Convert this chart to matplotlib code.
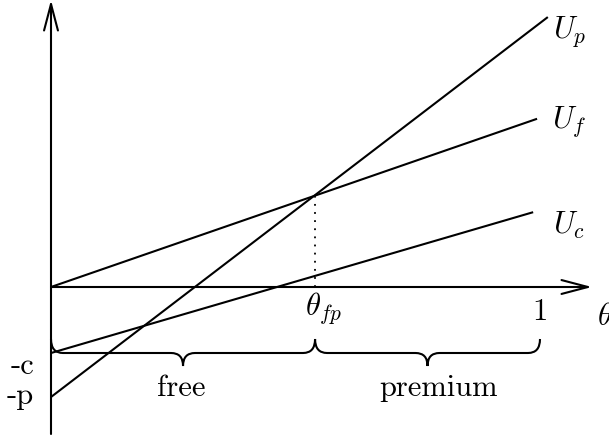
import numpy as np
import matplotlib
matplotlib.use('Agg')
from matplotlib import pyplot as plt
from matplotlib.path import Path
from matplotlib.patches import PathPatch

plt.rcParams['mathtext.fontset'] = 'cm'

# utility lines: start/end theta and value
curve_labels = [r'$U_p$', r'$U_f$', r'$U_c$']
theta_start = [0.0, 0.0, 0.0]
theta_stop = [1.016, 0.994, 0.986]
u_start = [-0.225, 0.0, -0.135]
u_stop = [0.552, 0.344, 0.153]

theta_fp = 0.54
u_fp = 0.188

# brace segments along the theta axis
brace_names = ['free', 'premium']
brace_from = [0.0, theta_fp]
brace_to = [theta_fp, 1.0]

y_tick_labels = ['-c', '-p']

# px -> data: 489 px per unit, origin at (51, 288)
S = 489.0
def px(v):
    return v / S

fig = plt.figure(figsize=(6.09, 4.39), dpi=100)
ax = fig.add_axes([0, 0, 1, 1])
ax.set_xlim(-51 / S, (609 - 51) / S)
ax.set_ylim((288 - 439) / S, 288 / S)
ax.axis('off')

lw = 1.5
fs = 22
rm = 'cmr10'

# axes with arrows
arrow = dict(arrowstyle='->,head_length=0.95,head_width=0.25', lw=lw, color='black',
             mutation_scale=20, shrinkA=0, shrinkB=0)
ax.annotate('', xy=(px(541), 0), xytext=(0, 0), arrowprops=arrow)
ax.annotate('', xy=(0, px(287)), xytext=(0, px(-147)), arrowprops=arrow)

# utility lines
lab_x = [1.027, 1.025, 1.027]
lab_y = [0.511, 0.327, 0.110]
for i in range(len(curve_labels)):
    ax.plot([theta_start[i], theta_stop[i]], [u_start[i], u_stop[i]], color='black', lw=lw,
            solid_capstyle='butt')
    ax.text(lab_x[i], lab_y[i], curve_labels[i], fontsize=fs, ha='left', va='baseline')

# dotted drop line at the crossing
ax.plot([theta_fp, theta_fp], [0, u_fp], color='black', lw=1.3, linestyle=(0, (1, 3.5)))

# axis tick labels
ax.text(px(305 - 51), px(288 - 315), r'$\theta_{fp}$', fontsize=fs, ha='left', va='baseline')
ax.text(1.0, px(288 - 320), '1', fontsize=fs, family=rm, ha='center', va='baseline')
ax.text(px(597 - 51), px(288 - 325), r'$\theta$', fontsize=fs, ha='left', va='baseline')
ax.text(px(34 - 51), px(288 - 374), y_tick_labels[0], fontsize=fs, family=rm, ha='right', va='baseline')
ax.text(px(34 - 51), px(288 - 404), y_tick_labels[1], fontsize=fs, family=rm, ha='right', va='baseline')

# curly braces
def brace(x0, x1, ytop, ybar, ytip, r):
    xm = (x0 + x1) / 2
    verts = [(x0, ytop), (x0, ybar), (x0 + r, ybar),
             (xm - r, ybar), (xm, ybar), (xm, ytip),
             (xm, ybar), (xm + r, ybar),
             (x1 - r, ybar), (x1, ybar), (x1, ytop)]
    codes = [Path.MOVETO, Path.CURVE3, Path.CURVE3,
             Path.LINETO, Path.CURVE3, Path.CURVE3,
             Path.CURVE3, Path.CURVE3,
             Path.LINETO, Path.CURVE3, Path.CURVE3]
    ax.add_patch(PathPatch(Path(verts, codes), fill=False, lw=lw, edgecolor='black'))

name_x = [px(181 - 51), px(439 - 51)]
for i in range(len(brace_names)):
    brace(brace_from[i], brace_to[i], px(288 - 340), px(288 - 354), px(288 - 367), px(12))
    ax.text(name_x[i], px(288 - 396), brace_names[i], fontsize=fs, family=rm,
            ha='center', va='baseline')

fig.savefig('out.png', dpi=100)
